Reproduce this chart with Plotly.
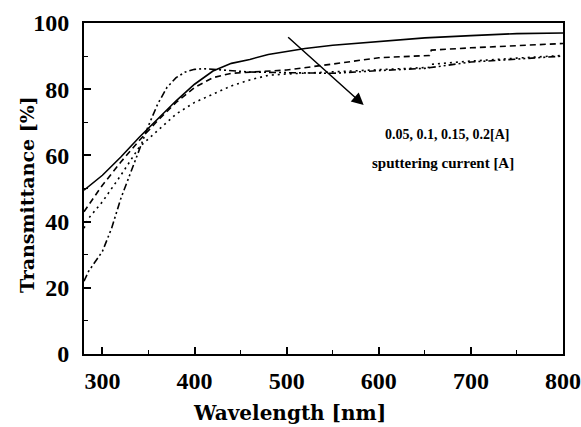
import plotly.graph_objects as go

# Wavelength [nm] and transmittance [%] for each sputtering current
wl_a = [280, 300, 320, 340, 360, 380, 400, 420, 440, 460, 480, 500, 520, 550, 600, 650, 700, 750, 800]
t_005 = [49.5, 54, 59.5, 65.5, 71, 76.5, 81.5, 85.5, 87.8, 89, 90.5, 91.5, 92.3, 93.3, 94.3, 95.5, 96.2, 96.8, 97]

wl_b = [280, 300, 320, 340, 360, 380, 400, 420, 440, 460, 500, 550, 600, 655, 657, 700, 750, 800]
t_010 = [43, 51, 58, 64.5, 70.5, 76, 80.5, 83.5, 84.8, 85.2, 85.8, 87.6, 89.5, 90.2, 91.8, 92.5, 93.2, 93.8]

wl_c = [280, 285, 300, 320, 340, 360, 380, 400, 420, 440, 460, 480, 500, 550, 600, 655, 657, 700, 750, 800]
t_015 = [38, 41, 46, 54, 62.5, 67.5, 72.5, 76, 78.5, 81, 82.8, 84.2, 84.6, 85.2, 86, 86.6, 87.5, 88.5, 89.4, 90.2]

wl_d = [280, 285, 300, 310, 320, 330, 340, 350, 360, 370, 380, 390, 400, 410, 420, 440, 460, 500, 550, 600, 650, 700, 750, 800]
t_020 = [22, 25, 31, 38, 47, 54.5, 62, 69, 75.5, 80.5, 83.5, 85.2, 86, 86.2, 86, 85.5, 85.2, 85, 84.8, 85.6, 86.3, 88.2, 89.2, 90]

x_ticks = [300, 400, 500, 600, 700, 800]
y_ticks = [0, 20, 40, 60, 80, 100]
label_currents = "0.05, 0.1, 0.15, 0.2[A]"
label_sputter = "sputtering current [A]"

fig = go.Figure()
fig.add_trace(go.Scatter(x=wl_a, y=t_005, mode="lines", name="0.05 A",
                         line=dict(color="black", width=1.6)))
fig.add_trace(go.Scatter(x=wl_b, y=t_010, mode="lines", name="0.1 A",
                         line=dict(color="black", width=1.6, dash="6px,4px")))
fig.add_trace(go.Scatter(x=wl_c, y=t_015, mode="lines", name="0.15 A",
                         line=dict(color="black", width=1.6, dash="2px,4px")))
fig.add_trace(go.Scatter(x=wl_d, y=t_020, mode="lines", name="0.2 A",
                         line=dict(color="black", width=1.6, dash="7px,3px,2px,3px,2px,3px")))

tick_font = dict(family="Liberation Serif", size=24, color="black", weight="bold")
axis_common = dict(showgrid=False, zeroline=False, showline=True, linecolor="black",
                   linewidth=2, mirror=True, ticks="inside", ticklen=7, tickwidth=1.5,
                   tickcolor="black", tickfont=tick_font, automargin=False)

fig.update_xaxes(range=[280, 800], tickvals=x_ticks,
                 minor=dict(dtick=50, ticks="inside", ticklen=4, tickcolor="black", tickwidth=1.2),
                 ticklabelstandoff=4, **axis_common)
fig.update_yaxes(range=[0, 100], tickvals=y_ticks,
                 minor=dict(dtick=10, ticks="inside", ticklen=4, tickcolor="black", tickwidth=1.2),
                 ticklabelstandoff=8, **axis_common)

annotations = [
    dict(text="<b>Wavelength [nm]</b>", xref="paper", yref="paper", x=0.43, y=0,
         yshift=-59, showarrow=False, font=dict(family="DejaVu Serif", size=20, color="black"),
         xanchor="center", yanchor="middle"),
    dict(text="<b>Transmittance [%]</b>", xref="paper", yref="paper", x=0, y=0.48,
         xshift=-57, showarrow=False, font=dict(family="DejaVu Serif", size=19, color="black"),
         textangle=-90, xanchor="center", yanchor="middle"),
    dict(x=583.6, y=75.2, ax=500, ay=96.1, xref="x", yref="y", axref="x", ayref="y",
         text="", showarrow=True, arrowhead=2, arrowsize=1.6, arrowwidth=1.5, arrowcolor="black"),
    dict(text=label_currents, x=674, y=66.2, xref="x", yref="y", showarrow=False,
         font=dict(family="Liberation Serif", size=14, color="black", weight="bold")),
    dict(text=label_sputter, x=670, y=57.6, xref="x", yref="y", showarrow=False,
         font=dict(family="Liberation Serif", size=15, color="black", weight="bold")),
]

fig.update_layout(width=581, height=427, margin=dict(l=84, r=18, t=23, b=73),
                  plot_bgcolor="white", paper_bgcolor="white", showlegend=False,
                  annotations=annotations,
                  font=dict(family="Liberation Serif", color="black"))

fig.write_html("out.html", config={"displayModeBar": False},
               post_script="document.body.style.margin='0';document.body.style.overflow='hidden';")
